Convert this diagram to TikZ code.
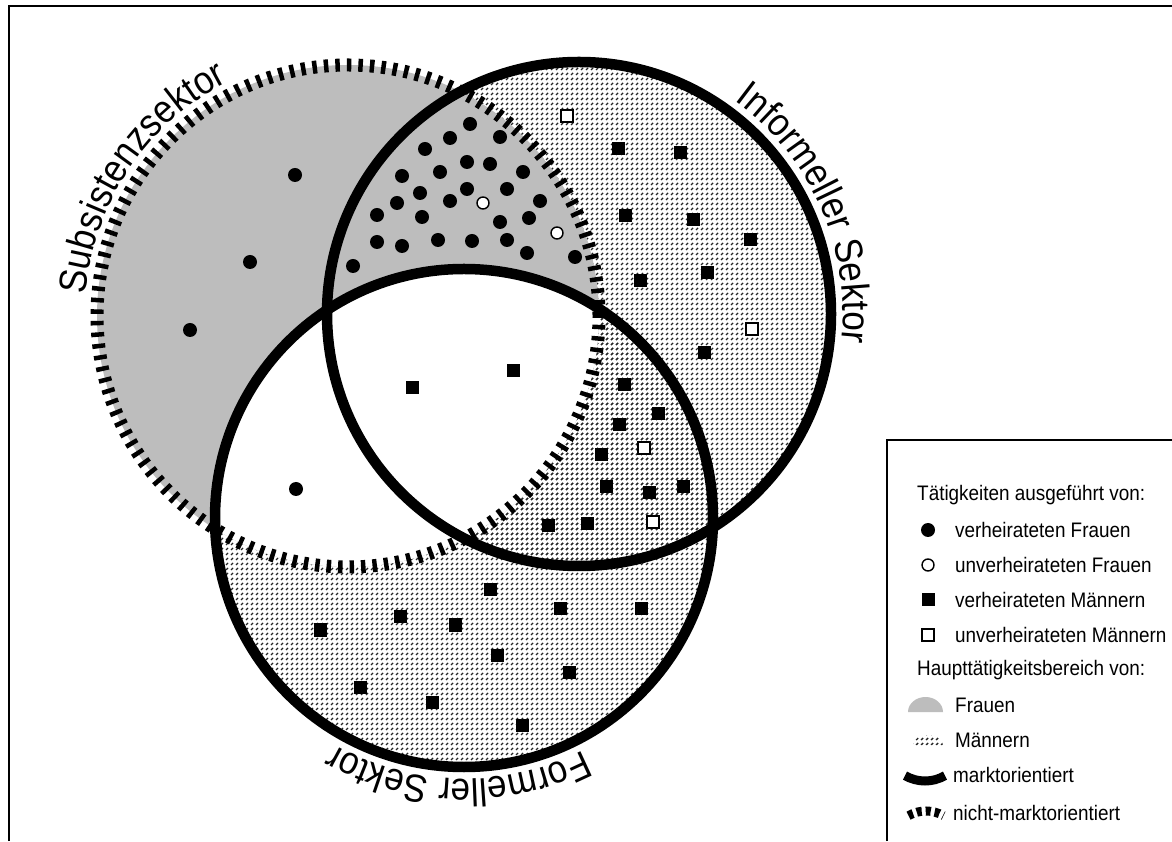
\documentclass[tikz,border=0pt]{standalone}
\usepackage{fontspec}
\setmainfont{Liberation Sans}
\newfontfamily\labfont[FakeStretch=0.9]{Liberation Sans}
\usetikzlibrary{patterns,decorations.text}
\pgfdeclarepatternformonly{mdash}{\pgfqpoint{-1pt}{-1pt}}{\pgfqpoint{6pt}{6pt}}{\pgfqpoint{5pt}{5pt}}{%
  \pgfsetlinewidth{1.4pt}%
  \pgfpathmoveto{\pgfqpoint{1pt}{1pt}}%
  \pgfpathlineto{\pgfqpoint{3pt}{3pt}}%
  \pgfusepath{stroke}}
\definecolor{frauen}{gray}{0.74}
\begin{document}
\begin{tikzpicture}[x=1pt,y=1pt,
  fw/.style={circle,fill=black,inner sep=0pt,minimum size=14pt},
  uw/.style={circle,draw=black,fill=white,line width=1.4pt,inner sep=0pt,minimum size=12pt},
  mm/.style={rectangle,fill=black,inner sep=0pt,minimum size=13pt},
  um/.style={rectangle,draw=black,fill=white,line width=1.4pt,inner sep=0pt,minimum size=12pt},
  ring/.style={line width=10.5pt},
  dring/.style={line width=13pt,dash pattern=on 4.5pt off 7pt},
  mpat/.style={pattern=mdash,pattern color=black!85},
  leg/.style={anchor=west,inner sep=0pt,font=\labfont\fontsize{21}{24}\selectfont},
  frame/.style={line width=1.5pt}]
\useasboundingbox (0,0) rectangle (1172,841);
\fill[white] (0,0) rectangle (1172,841);
\coordinate (cS) at (348,525);
\coordinate (cI) at (579,527);
\coordinate (cF) at (464,323);
% regions
\fill[mpat] (cI) circle[radius=252pt];
\fill[mpat] (cF) circle[radius=249pt];
\fill[frauen] (cS) circle[radius=251pt];
\begin{scope}
  \clip (cS) circle[radius=251pt];
  \fill[white] (cF) circle[radius=249pt];
\end{scope}
% markers
\foreach \x/\y [count=\i] in {295/175,250/262,190/330,296/489,
  470/124,450/138,500/137,425/149,467/162,490/164,402/176,440/172,523/172,
  420/193,467/189,507/189,397/203,450/201,540/201,377/215,422/217,500/222,
  529/218,377/242,402/246,438/240,472/241,507/240,527/253,575/257,353/266}
  \node[fw] (fw\i) at (\x,{841-\y}) {};
\foreach \x/\y [count=\i] in {483/203,557/233}
  \node[uw] (uw\i) at (\x,{841-\y}) {};
\foreach \x/\y [count=\i] in {618/149,680/153,625/216,693/220,750/240,640/281,707/273,704/353,
  412/388,513/371,
  624/385,658/414,619/425,601/455,606/487,649/493,683/487,548/526,587/524,
  320/630,400/617,455/625,490/590,560/609,641/609,497/655,569/672,360/687,432/702,522/725}
  \node[mm] (mm\i) at (\x,{841-\y}) {};
\foreach \x/\y [count=\i] in {567/116,752/329,644/448,653/522}
  \node[um] (um\i) at (\x,{841-\y}) {};
% rings
\draw[dring] (cS) circle[radius=251pt];
\draw[ring] (cI) circle[radius=252pt];
\draw[ring] (cF) circle[radius=249pt];
% labels
\path[decorate,decoration={text along path,text align=center,
  text={|\labfont\fontsize{39}{40}\selectfont|Subsistenzsektor}}]
  ([shift={(206.2:263pt)}]cS) arc[start angle=206.2,end angle=86.2,radius=263pt];
\path[decorate,decoration={text along path,text align=center,
  text={|\labfont\fontsize{39}{40}\selectfont|Informeller Sektor}}]
  ([shift={(83.85:264pt)}]cI) arc[start angle=83.85,end angle=-36.15,radius=264pt];
\path[decorate,decoration={text along path,text align=center,
  text={|\labfont\fontsize{39}{40}\selectfont|Formeller Sektor}}]
  ([shift={(-31.3:261pt)}]cF) arc[start angle=-31.3,end angle=-151.3,radius=261pt];
% frame
\draw[frame] (9,0) -- (9,835) -- (1172,835);
\draw[frame] (887,0) -- (887,401) -- (1172,401);
% legend
\node[leg] (t1) at (917,346) {Tätigkeiten ausgeführt von:};
\node[fw] (lfw) at (928,311) {};
\node[leg] (l1) at (955,311) {verheirateten Frauen};
\node[uw] (luw) at (928,276) {};
\node[leg] (l2) at (955,276) {unverheirateten Frauen};
\node[mm] (lmm) at (928,241) {};
\node[leg] (l3) at (955,241) {verheirateten Männern};
\node[um] (lum) at (928,206) {};
\node[leg] (l4) at (955,206) {unverheirateten Männern};
\node[leg] (t2) at (917,171) {Haupttätigkeitsbereich von:};
\fill[frauen] (908,129) arc[start angle=180,end angle=0,x radius=17.5pt,y radius=15pt] -- cycle;
\node[leg] (l5) at (955,136) {Frauen};
\fill[mpat] (913,96) arc[start angle=180,end angle=0,x radius=15pt,y radius=10pt] -- cycle;
\node[leg] (l6) at (955,101) {Männern};
\draw[line width=9pt] ([shift={(240:40pt)}]925,100) arc[start angle=240,end angle=300,radius=40pt];
\node[leg] (l7) at (953,66) {marktorientiert};
\draw[line width=9pt,dash pattern=on 5pt off 4pt] ([shift={(120:35pt)}]926,-5) arc[start angle=120,end angle=60,radius=35pt];
\node[leg] (l8) at (953,28) {nicht-marktorientiert};
\end{tikzpicture}
\end{document}
